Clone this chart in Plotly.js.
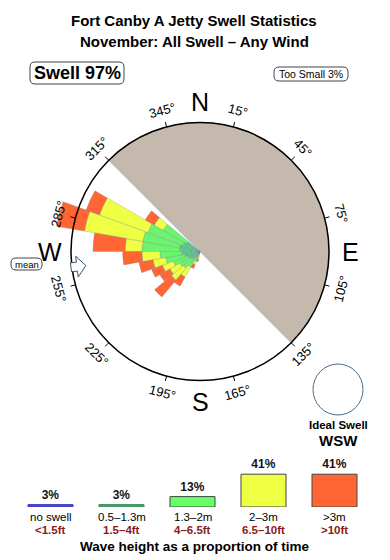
<!DOCTYPE html>
<html><head><meta charset="utf-8">
<script src="https://cdn.plot.ly/plotly-3.0.1.min.js"></script>
<style>html,body{margin:0;padding:0;background:#fff}#chart{width:390px;height:560px}</style>
</head><body><div id="chart"></div>
<script>
// ---------- data ----------
const directions = [195,205,215,225,235,245,255,265,275,285,295,305];
const h05to13 = [0.2,0.4,0.6,0.8,0.9,1.0,1.2,1.4,1.6,1.6,1.4,1.2];
const h13to2  = [0.2,0.4,0.8,0.9,0.9,1.2,1.5,1.7,2.9,2.9,2.9,2.1];
const h2to3   = [0.2,0.3,0.9,1.2,0.9,0.9,1.0,1.4,1.3,4.6,4.0,0.8];
const hOver3  = [0.2,0.3,0.8,1.7,0.9,0.9,1.1,1.5,2.5,2.2,1.1,0.8];
const tickAngles = [15,45,75,105,135,165,195,225,255,285,315,345];
const cardinals = ['N','E','S','W'];
const cardinalAngles = [0,90,180,270];
const legendPct = [3,3,13,41,41];
const legendMetres = ['no swell','0.5–1.3m','1.3–2m','2–3m','&gt;3m'];
const legendFeet = ['&lt;1.5ft','1.5–4ft','4–6.5ft','6.5–10ft','&gt;10ft'];
const swellPct = 97, tooSmallPct = 3;
const meanDir = 263;
const shadowCentre = 45, shadowWidth = 180;   // land sector 315° -> 135°
const circleValue = 10;

// ---------- geometry / styles ----------
const W = 390, H = 560;
const X = v => v / W, Y = v => 1 - v / H;
const cx = 200, cy = 251.5, Rpx = 129, domR = 150;
const Rmax = circleValue * domR / Rpx;
const FONT = 'Liberation Sans, Arial, Helvetica, sans-serif';
const cols = {dg:'#5ec78a', lg:'#6cf46c', ye:'#eeff44', or:'#ff6633', land:'#c5b9ad'};
const pol = (th, r) => [cx + r*Math.sin(th*Math.PI/180), cy - r*Math.cos(th*Math.PI/180)];

const barLine = {color:'rgba(110,125,150,0.45)', width:0.6};
const traces = [];
traces.push({type:'barpolar', r:[circleValue], theta:[shadowCentre], width:[shadowWidth],
  marker:{color:cols.land, line:{color:'#a9b5c4', width:1}}, hoverinfo:'skip', showlegend:false});
[[h05to13,cols.dg],[h13to2,cols.lg],[h2to3,cols.ye],[hOver3,cols.or]].forEach(([vals,c])=>{
  traces.push({type:'barpolar', r:vals, theta:directions, width:directions.map(()=>10),
    marker:{color:c, line:barLine}, showlegend:false, hoverinfo:'skip'});
});
// tick marks on the rim
const tr = [], tt = [];
tickAngles.forEach(a=>{ tr.push(circleValue, circleValue + 5*circleValue/Rpx, null); tt.push(a,a,null); });
traces.push({type:'scatterpolar', mode:'lines', r:tr, theta:tt, line:{color:'#000', width:1},
  showlegend:false, hoverinfo:'skip', connectgaps:false});

// legend bars
traces.push({type:'bar', x:[0,1,2,3,4], y:legendPct, width:0.634, xaxis:'x', yaxis:'y',
  marker:{color:['#4848c8','#4c9c6c','#66ff66','#eeff44','#ff6633'],
          line:{color:['#4040c0','#3f8f5f','#444','#444','#444'], width:1}},
  texttemplate:'<b>%{y}%</b>', textposition:'outside', cliponaxis:false,
  textfont:{family:FONT, size:12, color:'#111'}, showlegend:false, hoverinfo:'skip'});

const ann = [];
const A = (x,y,text,o={}) => ann.push(Object.assign({xref:'paper',yref:'paper',x:X(x),y:Y(y),text,
  showarrow:false,xanchor:'center',yanchor:'middle',font:{family:FONT,size:12,color:'#000'}},o));

A(194,21,'<b>Fort Canby A Jetty Swell Statistics</b>',{font:{family:FONT,size:15,color:'#000'}});
A(194,42,'<b>November: All Swell – Any Wind</b>',{font:{family:FONT,size:15,color:'#000'}});
A(77,73,'<b>Swell '+swellPct+'%</b>',{font:{family:FONT,size:18,color:'#000'}});
A(311,74,'Too Small '+tooSmallPct+'%',{font:{family:FONT,size:10.5,color:'#000'}});
A(27,264,'mean',{font:{family:FONT,size:9.5,color:'#000'}});
tickAngles.forEach(a=>{
  const [x,y] = pol(a,146);
  const ang = a <= 90 ? a : (a < 270 ? a-180 : a-360);
  A(x,y,a+'°',{textangle:ang,font:{family:FONT,size:13,color:'#000'}});
});
cardinals.forEach((c,i)=>{
  const [x,y] = pol(cardinalAngles[i],150);
  A(x,y,c,{font:{family:FONT,size:25,color:'#000'}});
});
A(338,424.5,'<b>Ideal Swell</b>',{font:{family:FONT,size:11.5,color:'#000'}});
A(338,440,'<b>WSW</b>',{font:{family:FONT,size:15,color:'#000'}});
legendMetres.forEach((m,i)=>{
  ann.push({xref:'x',yref:'paper',x:i,y:Y(517),text:m,showarrow:false,xanchor:'center',yanchor:'middle',
    font:{family:FONT,size:11.5,color:'#000'}});
  ann.push({xref:'x',yref:'paper',x:i,y:Y(530),text:'<b>'+legendFeet[i]+'</b>',showarrow:false,xanchor:'center',yanchor:'middle',
    font:{family:FONT,size:11.5,color:'#8b1a1a'}});
});
A(195,546,'<b>Wave height as a proportion of time</b>',{font:{family:FONT,size:13.5,color:'#000'}});

// shapes
const rr = (x0,y0,x1,y1,r) => {
  const p = (x,y)=>X(x)+','+Y(y);
  return 'M'+p(x0+r,y0)+' L'+p(x1-r,y0)+' Q'+p(x1,y0)+' '+p(x1,y0+r)+' L'+p(x1,y1-r)+' Q'+p(x1,y1)+' '+p(x1-r,y1)+
    ' L'+p(x0+r,y1)+' Q'+p(x0,y1)+' '+p(x0,y1-r)+' L'+p(x0,y0+r)+' Q'+p(x0,y0)+' '+p(x0+r,y0)+' Z';
};
const shapes = [];
shapes.push({type:'circle',xref:'paper',yref:'paper',x0:X(cx-Rpx),x1:X(cx+Rpx),y0:Y(cy+Rpx),y1:Y(cy-Rpx),
  line:{color:'#000',width:1.5},layer:'above'});
shapes.push({type:'path',xref:'paper',yref:'paper',path:rr(30,62,124,84,5),line:{color:'#444',width:1}});
shapes.push({type:'path',xref:'paper',yref:'paper',path:rr(274,67,348,81,5),line:{color:'#444',width:1}});
shapes.push({type:'path',xref:'paper',yref:'paper',path:rr(11,258,42,270,5),line:{color:'#444',width:1}});
shapes.push({type:'circle',xref:'paper',yref:'paper',x0:X(313),x1:X(363),y0:Y(415),y1:Y(364),
  line:{color:'#4a6a8a',width:1}});
// mean direction arrow (points toward the centre)
(function(){
  const th = meanDir*Math.PI/180;
  const d = [-Math.sin(th), Math.cos(th)];           // inward (screen)
  const pp = [Math.cos(th), Math.sin(th)];            // perpendicular
  const [bx,by] = pol(meanDir, Rpx+1);
  const loc = [[0,-4.5],[6,-4.5],[6,-10.5],[15,0],[6,10.5],[6,4.5],[0,4.5]];
  const pts = loc.map(([u,v])=>[bx+u*d[0]+v*pp[0], by+u*d[1]+v*pp[1]]);
  const path = 'M'+pts.map(p=>X(p[0])+','+Y(p[1])).join(' L')+' Z';
  shapes.push({type:'path',xref:'paper',yref:'paper',path,fillcolor:'#fff',line:{color:'#3b5570',width:1},layer:'above'});
})();

const layout = {
  width:W, height:H, autosize:false, margin:{l:0,r:0,t:0,b:0},
  paper_bgcolor:'#fff', plot_bgcolor:'rgba(0,0,0,0)', showlegend:false,
  font:{family:FONT},
  polar:{
    domain:{x:[X(cx-domR),X(cx+domR)], y:[Y(cy+domR),Y(cy-domR)]},
    bgcolor:'rgba(0,0,0,0)', barmode:'stack', bargap:0,
    radialaxis:{visible:false, range:[0,Rmax]},
    angularaxis:{rotation:90, direction:'clockwise', showline:false, showgrid:false,
      showticklabels:false, ticks:''}
  },
  xaxis:{domain:[X(15),X(370)], range:[-0.5,4.5], visible:false, fixedrange:true},
  yaxis:{domain:[Y(507),Y(467)], range:[0,50], visible:false, fixedrange:true},
  annotations:ann, shapes
};
Plotly.newPlot('chart', traces, layout, {staticPlot:true, displayModeBar:false});
</script></body></html>
